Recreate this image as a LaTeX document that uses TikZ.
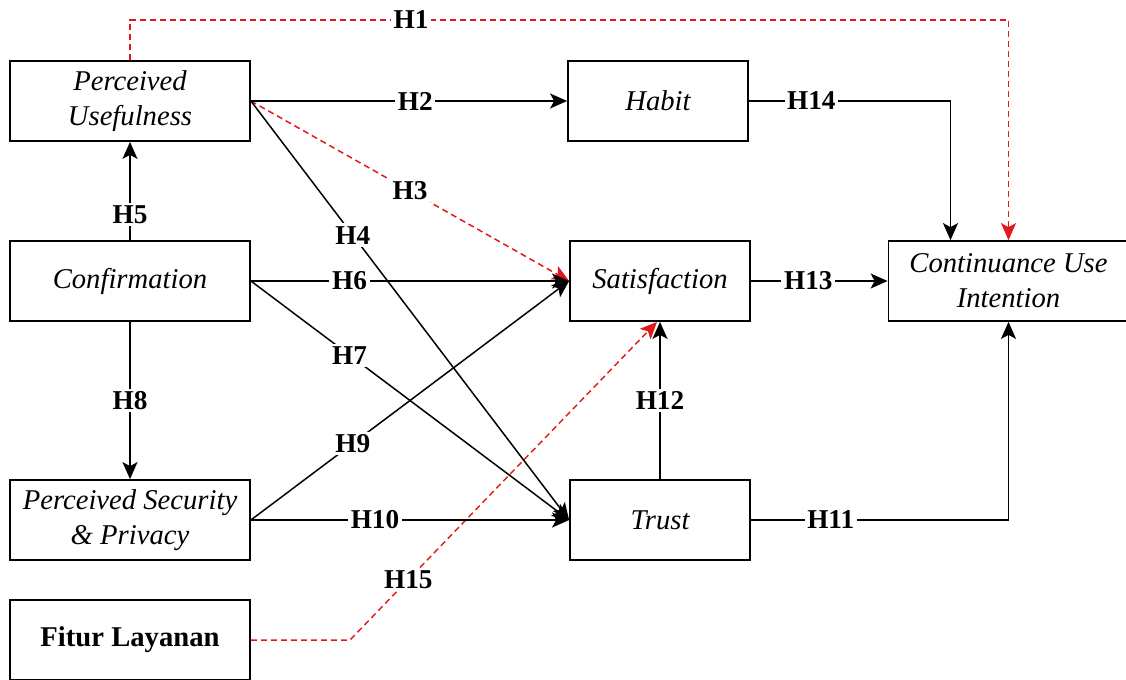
\documentclass[tikz,border=0pt]{standalone}
\usepackage{fontspec}
\setmainfont{Liberation Serif}
\usetikzlibrary{positioning, arrows.meta}
\definecolor{hred}{RGB}{225,25,25}

\begin{document}
\begin{tikzpicture}[
	var/.style={draw, line width=1pt, minimum width=4.8cm, minimum height=1.6cm, align=center, inner sep=2pt,
		font=\itshape\fontsize{16.3}{20}\selectfont},
	hyp/.style={fill=white, inner sep=1.5pt, font=\bfseries\fontsize{15.5}{20}\selectfont},
	link/.style={line width=0.85pt, -{Stealth[length=0.34cm, width=0.3cm, inset=0.08cm]}},
	redlink/.style={link, draw=hred, dash pattern=on 0.12cm off 0.08cm}
	]
	\useasboundingbox (0,0) rectangle (22.52,-13.6);
	
	\node[var] (PU) at (2.6,-2.02) {Perceived\\Usefulness};
	\node[var] (CONF) at (2.6,-5.62) {Confirmation};
	\node[var] (PSP) at (2.6,-10.4) {Perceived Security\\\& Privacy};
	\node[var, font=\bfseries\fontsize{16.3}{20}\selectfont] (FL) at (2.6,-12.8) {Fitur Layanan};
	
	\node[var, minimum width=3.6cm] (HAB) at (13.16,-2.02) {Habit};
	\node[var, minimum width=3.6cm] (SAT) at (13.2,-5.62) {Satisfaction};
	\node[var, minimum width=3.6cm] (TRU) at (13.2,-10.4) {Trust};
	\node[var] (CUI) at (20.17,-5.62) {Continuance Use\\Intention};
	
	\coordinate (H1c) at (20.17,-0.4);
	\coordinate (H15c) at (7,-12.8);
	
	% dashed hypotheses
	\draw[redlink] (PU.north) |- node[hyp, pos=0.66] {H1} (H1c) -- (CUI.north);
	\draw[redlink] (PU.east) -- node[hyp, pos=0.5] {H3} (SAT.west);
	\draw[redlink] (FL.east) -- (H15c) -- node[hyp, pos=0.19] {H15} ([xshift=-0.06cm]SAT.south);
	
	\draw[link] (PU.east) -- node[hyp, pos=0.52] {H2} (HAB.west);
	\draw[link] (PU.east) -- node[hyp, pos=0.32] {H4} (TRU.west);
	\draw[link] (CONF.north) -- node[hyp, pos=0.26] {H5} (PU.south);
	\draw[link] (CONF.east) -- node[hyp, pos=0.31] {H6} (SAT.west);
	\draw[link] (CONF.east) -- node[hyp, pos=0.31] {H7} (TRU.west);
	\draw[link] (CONF.south) -- node[hyp, pos=0.5] {H8} (PSP.north);
	\draw[link] (PSP.east) -- node[hyp, pos=0.32] {H9} (SAT.west);
	\draw[link] (PSP.east) -- node[hyp, pos=0.39] {H10} (TRU.west);
	\draw[link] (TRU.east) -| node[hyp, pos=0.155] {H11} (CUI.south);
	\draw[link] (TRU.north) -- node[hyp, pos=0.5] {H12} (SAT.south);
	\draw[link] (SAT.east) -- node[hyp, pos=0.42] {H13} (CUI.west);
	\draw[link] (HAB.east) -| node[hyp, pos=0.155] {H14} ([xshift=-1.16cm]CUI.north);
\end{tikzpicture}
\end{document}
